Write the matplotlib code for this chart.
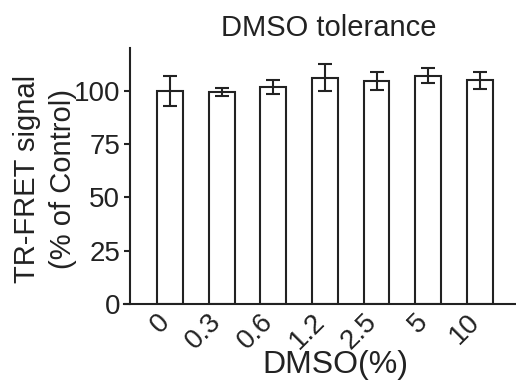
import matplotlib
matplotlib.use("Agg")
import matplotlib.pyplot as plt
import matplotlib.transforms as mtrans

# データ
doses = ["0", "0.3", "0.6", "1.2", "2.5", "5", "10"]
signal = [100.0, 99.5, 101.8, 106.0, 104.6, 107.0, 104.8]
sd = [7.0, 1.8, 3.2, 6.3, 4.2, 3.5, 4.1]
y_ticks = [0, 25, 50, 75, 100]

# 書式設定
plt.rcParams["font.family"] = ["Liberation Sans", "DejaVu Sans"]
col = "#222222"

fig = plt.figure(figsize=(5.16, 3.81), dpi=100)
ax = fig.add_axes([124 / 516, 1 - 304 / 381, 392 / 516, 256 / 381])

x = list(range(len(doses)))
ax.bar(x, signal, width=0.5, color="white", edgecolor=col, linewidth=1.5, zorder=2)
ax.errorbar(x, signal, yerr=sd, fmt="none", ecolor=col, elinewidth=1.5,
            capsize=4.8, capthick=1.5, zorder=3)

ax.set_xlim(-0.89, 6.7)
ax.set_ylim(0, 120)
ax.set_yticks(y_ticks)
ax.set_xticks(x)
ax.set_xticklabels(doses, rotation=45, ha="right", va="center", rotation_mode="anchor")

# 軸の書式
for s in ["top", "right"]:
  ax.spines[s].set_visible(False)
ax.spines["left"].set_position(("data", -0.77))
for s in ["left", "bottom"]:
  ax.spines[s].set_linewidth(1.5)
  ax.spines[s].set_color(col)
ax.tick_params(axis="y", length=4.3, width=1.5, pad=3, labelsize=20, colors=col)
ax.tick_params(axis="x", length=0, pad=10, labelsize=20, colors=col)

# ラベルの位置を微調整
shift = mtrans.ScaledTranslation(-4 / 100, 0, fig.dpi_scale_trans)
for lab in ax.get_xticklabels():
  lab.set_transform(lab.get_transform() + shift)

ax.set_title("DMSO tolerance", fontsize=21, x=0.523, pad=9, color=col)
ax.set_xlabel("DMSO(%)", fontsize=23, color=col)
ax.xaxis.set_label_coords(0.538, -0.18)
ax.set_ylabel("TR-FRET signal\n(% of Control)", fontsize=21, color=col, linespacing=1.35)
ax.yaxis.set_label_coords(-0.12, 0.49)

fig.savefig("out.png", dpi=100)
